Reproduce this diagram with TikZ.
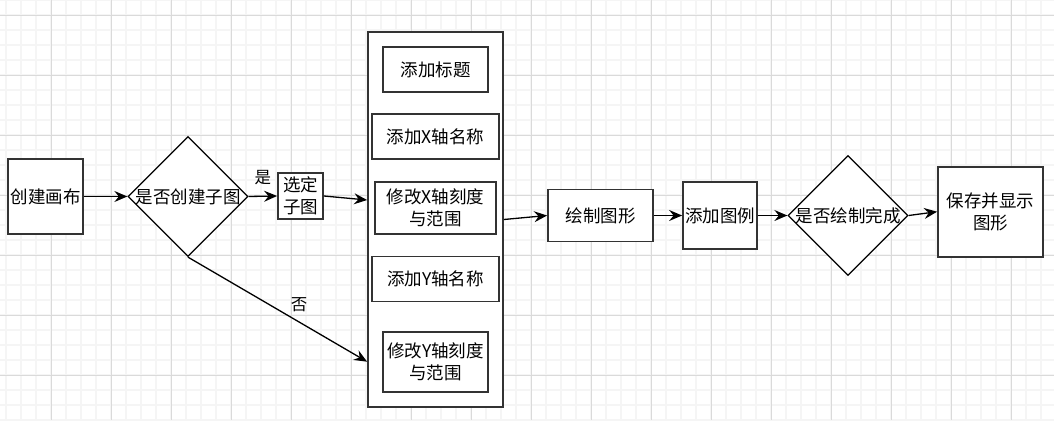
\documentclass[tikz,border=0pt]{standalone}
\usepackage{fontspec}
\setmainfont{Noto Sans CJK SC}
\usetikzlibrary{positioning, shapes.geometric, arrows.meta, calc}

\definecolor{gridminor}{HTML}{F5F5F5}
\definecolor{gridmajor}{HTML}{DADADA}
\definecolor{edge}{HTML}{333333}

\begin{document}
\begin{tikzpicture}[
  x=1pt, y=-1pt,
  >={Stealth[length=13pt,width=11pt,inset=4.5pt]},
  every node/.style={font=\fontsize{17.5pt}{22.5pt}\selectfont, inner sep=0pt},
  box/.style={draw=edge, line width=1.8pt, fill=white, align=center},
  decision/.style={diamond, draw=black, line width=1.3pt, fill=white, aspect=1, minimum width=120pt, minimum height=120pt},
  flow/.style={->, line width=1.3pt, black},
  lbl/.style={font=\fontsize{16.5pt}{19pt}\selectfont}
]
\useasboundingbox (0,0) rectangle (1054,420);

% Background grid
\foreach \x in {6,21,...,1054} \draw[gridminor, line width=1.5pt] (\x,0) -- (\x,420);
\foreach \y in {0,15,...,420} \draw[gridminor, line width=1.5pt] (0,\y) -- (1054,\y);
\foreach \x in {51,111,...,1054} \draw[gridmajor, line width=0.9pt] (\x,0) -- (\x,420);
\foreach \y in {15,75,...,420} \draw[gridmajor, line width=0.9pt] (0,\y) -- (1054,\y);

% Left part
\node[box, minimum width=75pt, minimum height=75pt] (canvas) at (45.5,196.5) {创建画布};
\node[decision] (sub) at (188,196.5) {};
\node at (sub) {是否创建子图};
\node[box, minimum width=45pt, minimum height=46pt] (pick) at (300.5,196) {选定\\子图};

% Axis settings group
\node[box, minimum width=135pt, minimum height=375pt] (group) at (435.5,219.5) {};
\node[box, minimum width=105pt, minimum height=45pt] (title) at (435.5,69.5) {添加标题};
\node[box, minimum width=127pt, minimum height=45pt] (xname) at (435.5,136.5) {添加X轴名称};
\node[box, minimum width=121pt, minimum height=52pt] (xrange) at (435.5,208) {修改X轴刻度\\与范围};
\node[box, minimum width=127pt, minimum height=45pt] (yname) at (435.5,279) {添加Y轴名称};
\node[box, minimum width=105pt, minimum height=60pt] (yrange) at (435.5,361.7) {修改Y轴刻度\\与范围};

% Right part
\node[box, minimum width=105pt, minimum height=52pt] (plot) at (600.5,215.5) {绘制图形};
\node[box, minimum width=74pt, minimum height=67pt] (legend) at (720,215.5) {添加图例};
\node[decision] (done) at (848,215.5) {};
\node at (done) {是否绘制完成};
\node[box, minimum width=105pt, minimum height=90pt] (save) at (990.5,211.7) {保存并显示\\图形};

% Connectors
\draw[flow] (canvas) -- (sub);
\draw[flow] (sub.east) -- node[lbl, above=11pt] {是} (pick.west);
\draw[flow] (pick.east) -- ([yshift=19.5pt]group.west);
\draw[flow] (sub.south) -- node[lbl, pos=0.62, above=10pt] {否} (group.west |- yrange);
\draw[flow] (group.east) -- (plot.west);
\draw[flow] (plot) -- (legend);
\draw[flow] (legend) -- (done);
\draw[flow] (done.east) -- (save.west);

\end{tikzpicture}
\end{document}
